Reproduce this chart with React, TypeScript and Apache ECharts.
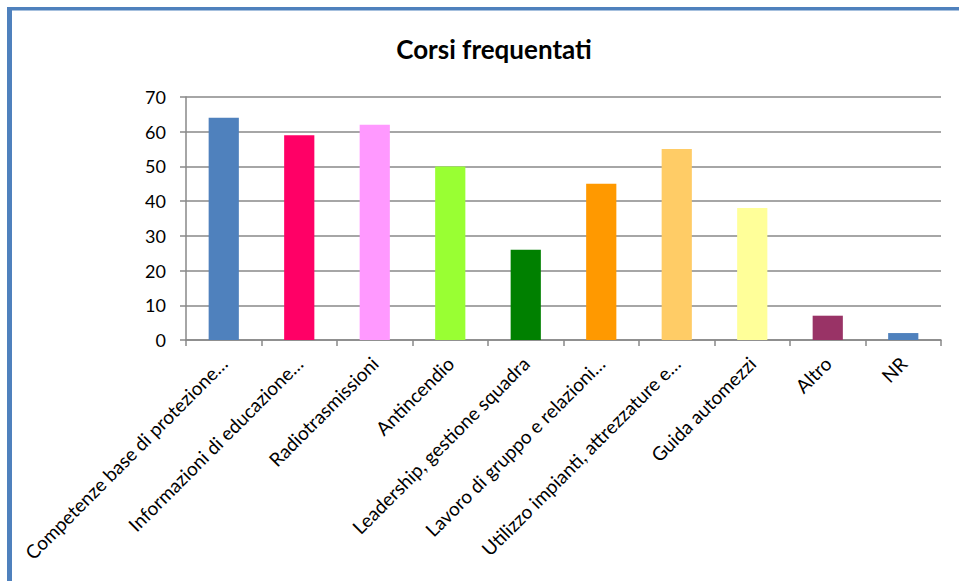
import React, { useEffect, useRef } from "react";
import * as echarts from "echarts";

const categories = [
  "Competenze base di protezione…",
  "Informazioni di educazione…",
  "Radiotrasmissioni",
  "Antincendio",
  "Leadership, gestione squadra",
  "Lavoro di gruppo e relazioni…",
  "Utilizzo impianti, attrezzature e…",
  "Guida automezzi",
  "Altro",
  "NR",
];
const values = [64, 59, 62, 50, 26, 45, 55, 38, 7, 2];
const barColors = [
  "#4F81BD",
  "#FF0066",
  "#FF99FF",
  "#99FF33",
  "#008000",
  "#FF9900",
  "#FFCC66",
  "#FFFF99",
  "#993366",
  "#4F81BD",
];
const yMin = 0;
const yMax = 70;
const yInterval = 10;
const titleText = "Corsi frequentati";

export default function App() {
  const ref = useRef<HTMLDivElement>(null);
  useEffect(() => {
    if (!ref.current) return;
    const chart = echarts.init(ref.current, null, { renderer: "svg" });
    const font = "Lato, 'Open Sans', sans-serif";
    chart.setOption({
      animation: false,
      backgroundColor: "#ffffff",
      title: {
        text: titleText,
        left: 489,
        top: 31,
        textAlign: "center",
        textStyle: { fontFamily: font, fontSize: 26, fontWeight: "bold", color: "#000" },
      },
      graphic: [
        { type: "rect", shape: { x: 7, y: 7, width: 952, height: 3.5 }, style: { fill: "#4F81BD" } },
        { type: "rect", shape: { x: 7, y: 7, width: 5, height: 574 }, style: { fill: "#4F81BD" } },
      ],
      grid: { left: 186, right: 18, top: 97, bottom: 241, containLabel: false },
      xAxis: {
        type: "category",
        data: categories,
        axisLine: { lineStyle: { color: "#888888", width: 1.5 } },
        axisTick: { show: true, alignWithLabel: false, length: 6, lineStyle: { color: "#888888", width: 1.5 } },
        axisLabel: {
          rotate: 45,
          interval: 0,
          margin: 20,
          fontFamily: font,
          fontSize: 19,
          color: "#000",
        },
      },
      yAxis: {
        type: "value",
        min: yMin,
        max: yMax,
        interval: yInterval,
        axisLine: { show: true, lineStyle: { color: "#888888", width: 1.5 } },
        axisTick: { show: true, length: 6, lineStyle: { color: "#888888", width: 1.5 } },
        splitLine: { lineStyle: { color: "#888888", width: 1.5 } },
        axisLabel: { margin: 20, fontFamily: font, fontSize: 18, color: "#000" },
      },
      series: [
        {
          type: "bar",
          barWidth: "40%",
          data: values.map((v, i) => ({ value: v, itemStyle: { color: barColors[i] } })),
        },
      ],
    });
    return () => chart.dispose();
  }, []);
  return (
    <div
      ref={ref}
      style={{ position: "absolute", left: 0, top: 0, width: 959, height: 581 }}
    />
  );
}
